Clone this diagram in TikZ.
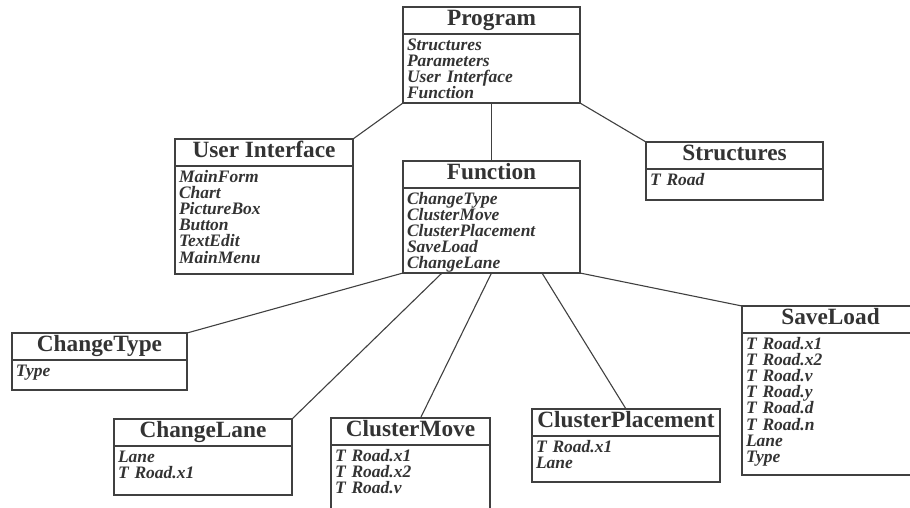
\documentclass[tikz,border=0pt]{standalone}
\usepackage{fontspec}
\setmainfont{Liberation Serif}
\begin{document}
\begin{tikzpicture}
			[x=1pt, y=-1pt,
			 every node/.style={draw=black!75, line width=1.3pt, text=black!80, outer sep=0pt, anchor=north west},
			 head/.style={minimum height=27pt, inner sep=0pt, text height=15.5pt, text depth=5pt,
			   font=\fontsize{23.3}{26}\selectfont\bfseries},
			 body/.style={inner xsep=4pt, inner ysep=2pt, align=left, text height=14pt,
			   font=\fontsize{17.5}{16.2}\selectfont\bfseries\itshape},
			 link/.style={draw=black!75, line width=1.1pt}]
			\useasboundingbox (0,0) rectangle (910,507);
			% top level
			\node[head, minimum width=177pt] (prog) at (403,7) {Program};
			\node[body, text width=169pt, text depth=51pt] (prog-b) at (prog.south west)
			  {Structures\\Parameters\\User Interface\\Function};
			\node[head, minimum width=178pt] (ui) at (175,139) {User Interface};
			\node[body, text width=170pt, text depth=90pt] (ui-b) at (ui.south west)
			  {MainForm\\Chart\\PictureBox\\Button\\TextEdit\\MainMenu};
			\node[head, minimum width=177pt] (fun) at (403,161) {Function};
			\node[body, text width=169pt, text depth=67pt] (fun-b) at (fun.south west)
			  {ChangeType\\ClusterMove\\ClusterPlacement\\SaveLoad\\ChangeLane};
			\node[head, minimum width=177pt] (struct) at (646,142) {Structures};
			\node[body, text width=169pt, text depth=13pt] (struct-b) at (struct.south west) {T Road};
			% functions
			\node[head, minimum width=175pt] (ctype) at (12,333) {ChangeType};
			\node[body, text width=167pt, text depth=12pt] (ctype-b) at (ctype.south west) {Type};
			\node[head, minimum width=178pt] (clane) at (114,419) {ChangeLane};
			\node[body, text width=170pt, text depth=31pt] (clane-b) at (clane.south west)
			  {Lane\\T Road.x1};
			\node[head, minimum width=159pt] (cmove) at (331,418) {ClusterMove};
			\node[body, text width=151pt, text depth=52pt] (cmove-b) at (cmove.south west)
			  {T Road.x1\\T Road.x2\\T Road.v};
			\node[head, minimum width=188pt] (cplace) at (532,409) {ClusterPlacement};
			\node[body, text width=180pt, text depth=28pt] (cplace-b) at (cplace.south west)
			  {T Road.x1\\Lane};
			\node[head, minimum width=177pt] (save) at (742,306) {SaveLoad};
			\node[body, text width=169pt, text depth=124pt] (save-b) at (save.south west)
			  {T Road.x1\\T Road.x2\\T Road.v\\T Road.y\\T Road.d\\T Road.n\\Lane\\Type};
			% links
			\draw[link] (prog-b.south west) -- (ui.north east);
			\draw[link] (prog-b.south) -- (fun.north);
			\draw[link] (prog-b.south east) -- (struct.north west);
			\draw[link] (fun-b.south west) -- (ctype.north east);
			\draw[link] ([xshift=39pt]fun-b.south west) -- (clane.north east);
			\draw[link] (fun-b.south) -- ([xshift=10pt]cmove.north);
			\draw[link] ([xshift=-38pt]fun-b.south east) -- (cplace.north);
			\draw[link] (fun-b.south east) -- (save.north west);
			\end{tikzpicture}
\end{document}
